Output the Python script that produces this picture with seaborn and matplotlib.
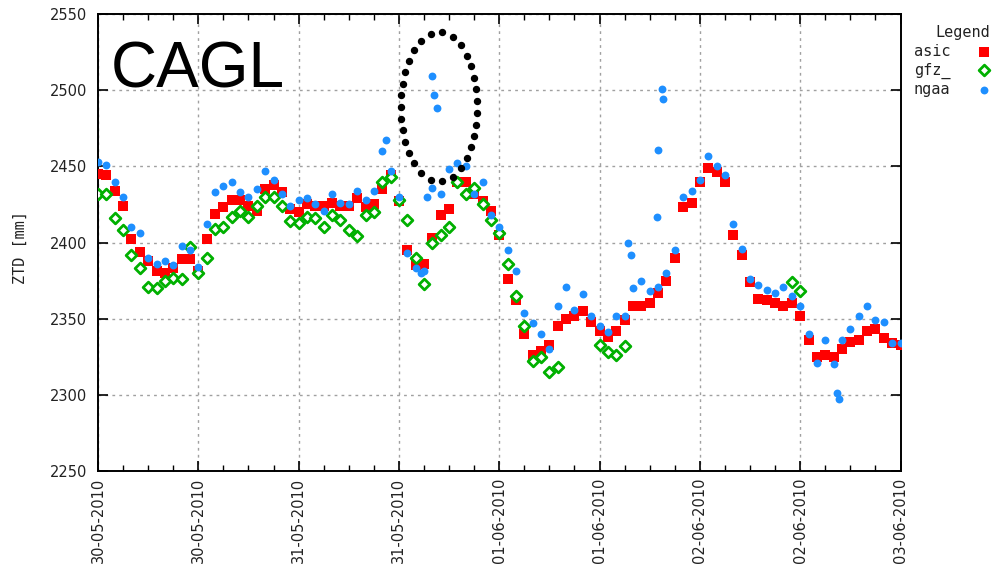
import numpy as np
import pandas as pd
import matplotlib
matplotlib.use("Agg")
import matplotlib.pyplot as plt
import matplotlib.dates as mdates
import seaborn as sns

# ---------------- data ----------------
start = "2010-05-30 00:00"
hours = list(range(97))
nan = np.nan

asic = [2445, 2444, 2434, 2424, 2402, 2394, 2388, 2381, 2380, 2383,
        2389, 2389, 2381, 2402, 2419, 2423, 2428, 2428, 2424, 2421,
        2435, 2438, 2433, 2422, 2420, 2425, 2424, 2424, 2426, 2424,
        2424, 2429, 2423, 2425, 2435, 2444, 2427, 2395, 2385, 2386,
        2403, 2418, 2422, 2440, 2440, 2432, 2427, 2421, 2405, 2376,
        2362, 2340, 2326, 2329, 2333, 2345, 2350, 2352, 2355, 2348,
        2342, 2338, 2342, 2349, 2358, 2358, 2360, 2367, 2375, 2390,
        2423, 2426, 2440, 2449, 2446, 2440, 2405, 2392, 2374, 2363,
        2362, 2360, 2358, 2360, 2352, 2336, 2325, 2326, 2325, 2330,
        2335, 2336, 2342, 2343, 2337, 2334, 2333]

gfz = [2432, 2432, 2416, 2408, 2392, 2383, 2371, 2370, 2375, 2377,
       2376, 2397, 2380, 2390, 2409, 2410, 2417, 2421, 2417, 2424,
       2430, 2430, 2424, 2414, 2413, 2417, 2416, 2410, 2418, 2415,
       2408, 2404, 2418, 2420, 2440, 2443, 2428, 2415, 2390, 2373,
       2400, 2405, 2410, 2440, 2432, 2436, 2425, 2415, 2406, 2386,
       2365, 2345, 2322, 2325, 2315, 2318, nan, nan, nan, nan,
       2333, 2328, 2326, 2332, nan, nan, nan, nan, nan, nan,
       nan, nan, nan, nan, nan, nan, nan, nan, nan, nan,
       nan, nan, nan, 2374, 2368, nan, nan, nan, nan, nan,
       nan, nan, nan, nan, nan, nan, nan]

ngaa = [2453, 2451, 2440, 2430, 2410, 2406, 2390, 2386, 2388, 2385,
        2398, 2395, 2384, 2412, 2433, 2437, 2440, 2433, 2430, 2435,
        2447, 2441, 2432, 2424, 2428, 2429, 2425, 2421, 2432, 2426,
        2425, 2434, 2428, 2434, 2460, 2447, 2430, 2393, 2383, 2381,
        2436, 2432, 2448, 2452, 2450, 2432, 2440, 2418, 2410, 2395,
        2381, 2354, 2347, 2340, 2330, 2358, 2371, 2356, 2366, 2352,
        2345, 2341, 2352, 2352, 2370, 2375, 2368, 2371, 2380, 2395,
        2430, 2434, 2441, 2457, 2450, 2444, 2412, 2396, 2376, 2372,
        2369, 2367, 2371, 2365, 2358, 2340, 2321, 2336, 2320, 2336,
        2343, 2352, 2358, 2349, 2348, 2334, 2334]

ngaa_extra_hours = [34.4, 38.6, 39.4, 39.9, 40.2, 40.6, 63.4, 63.8,
                    66.9, 67.0, 67.5, 67.6, 88.4, 88.6]
ngaa_extra = [2467, 2380, 2430, 2509, 2497, 2488, 2400, 2392,
              2417, 2461, 2501, 2494, 2301, 2297]

y_ticks = [2250, 2300, 2350, 2400, 2450, 2500, 2550]
station = "CAGL"
labels = ["asic", "gfz_", "ngaa"]

# annotation ellipse (centre in hours / mm, half-axes in hours / mm)
ell_center_h, ell_center_v = 40.8, 2489
ell_half_w_h, ell_half_h_v = 4.6, 49
ell_n_dots = 31

# ---------------- frames ----------------
t0 = pd.Timestamp(start)
df = pd.DataFrame({
    "time": t0 + pd.to_timedelta(hours, unit="h"),
    "asic": asic, "gfz": gfz, "ngaa": ngaa,
})
df_ng = pd.concat([
    df[["time", "ngaa"]],
    pd.DataFrame({"time": t0 + pd.to_timedelta(ngaa_extra_hours, unit="h"),
                  "ngaa": ngaa_extra}),
]).sort_values("time")

# ---------------- plot ----------------
W, H = 993, 582
fig = plt.figure(figsize=(W / 100, H / 100), dpi=100)
ax = fig.add_axes([98 / W, 1 - 471 / H, (900.5 - 98) / W, (471 - 14) / H])

sns.scatterplot(data=df, x="time", y="asic", ax=ax, marker="s", s=50,
                color="#ff0000", linewidth=0, label=labels[0], zorder=3)
sns.scatterplot(data=df, x="time", y="gfz", ax=ax, marker="D", s=30,
                facecolor="white", edgecolor="#00b000", linewidth=2.0,
                label=labels[1], zorder=4)
sns.scatterplot(data=df_ng, x="time", y="ngaa", ax=ax, marker="o", s=32,
                color="#1e8fff", linewidth=0, label=labels[2], zorder=5)

ax.set_xlim(t0, t0 + pd.Timedelta(hours=96))
ax.set_ylim(2250, 2550)
ax.set_yticks(y_ticks)
ax.xaxis.set_major_locator(mdates.HourLocator(byhour=[0, 12]))
ax.xaxis.set_minor_locator(mdates.HourLocator(byhour=range(0, 24, 3)))
ax.xaxis.set_major_formatter(mdates.DateFormatter("%d-%m-%Y"))
ax.set_xlabel("")
ax.set_ylabel("")

ax.grid(True, which="major", color="#a0a0a0", linestyle=(0, (2, 3)), linewidth=1)
ax.set_axisbelow(True)
for sp in ax.spines.values():
    sp.set_linewidth(1.4)
    sp.set_color("black")

ax.tick_params(axis="both", which="major", direction="in", length=7, width=1.2,
               top=True, right=True, labelsize=10.5, colors="black")
ax.tick_params(axis="x", which="minor", direction="in", length=4.5, width=1.0,
               top=True, bottom=True)
ax.tick_params(axis="y", which="major", pad=8)
ax.tick_params(axis="x", which="major", pad=5)
plt.setp(ax.get_xticklabels(), rotation=90, ha="center", va="top")
for lab in ax.get_xticklabels() + ax.get_yticklabels():
    lab.set_color("#222222")

fig.text(20 / W, 1 - 247 / H, "ZTD [mm]", rotation=90, ha="center", va="center",
         fontsize=11, family="DejaVu Sans Mono", color="#222222")

fig.text(111 / W, 1 - 88 / H, station, ha="left", va="baseline",
         fontsize=46, family="Liberation Sans", color="black")

# dotted ellipse: dots evenly spaced along the perimeter in display space
fig.canvas.draw()
c_disp = ax.transData.transform(
    (mdates.date2num(t0 + pd.Timedelta(hours=ell_center_h)), ell_center_v))
e_disp = ax.transData.transform(
    (mdates.date2num(t0 + pd.Timedelta(hours=ell_center_h + ell_half_w_h)),
     ell_center_v + ell_half_h_v))
a_px, b_px = e_disp - c_disp
th = np.linspace(0, 2 * np.pi, 2001)
px = np.column_stack([c_disp[0] + a_px * np.cos(th), c_disp[1] + b_px * np.sin(th)])
seg = np.hypot(*np.diff(px, axis=0).T)
arc = np.concatenate([[0], np.cumsum(seg)])
targets = np.linspace(0, arc[-1], ell_n_dots, endpoint=False) + arc[-1] / ell_n_dots / 2
dots_disp = np.column_stack([np.interp(targets, arc, px[:, 0]),
                             np.interp(targets, arc, px[:, 1])])
dots = ax.transData.inverted().transform(dots_disp)
ax.plot(dots[:, 0], dots[:, 1], linestyle="none", marker="o", markersize=4.3,
        color="black", zorder=10, clip_on=False)

# legend
leg = ax.legend(loc="upper left", bbox_to_anchor=(903 / W, 1 - 14 / H),
                bbox_transform=fig.transFigure, frameon=False, title="Legend",
                markerfirst=False, alignment="right", handletextpad=1.8,
                labelspacing=0.25, borderpad=0.2, handlelength=0.8,
                prop={"family": "DejaVu Sans Mono", "size": 11},
                title_fontproperties={"family": "DejaVu Sans Mono", "size": 11})
for txt in leg.get_texts():
    txt.set_color("#222222")
leg.get_title().set_color("#222222")

ax.set_xlim(t0, t0 + pd.Timedelta(hours=96))
ax.set_ylim(2250, 2550)
fig.savefig("out.png", dpi=100)
